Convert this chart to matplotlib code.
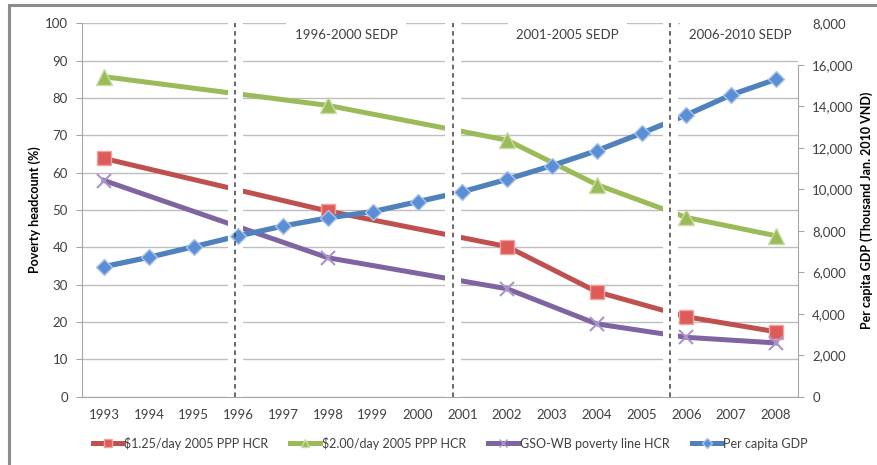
import matplotlib
matplotlib.use("Agg")
import matplotlib.pyplot as plt
from matplotlib.lines import Line2D
from matplotlib.patches import Rectangle

plt.rcParams['font.family'] = ['Lato', 'DejaVu Sans']

# Datos
years = list(range(1993, 2009))
survey_years = [1993, 1998, 2002, 2004, 2006, 2008]
hcr_125 = [63.8, 49.7, 40.2, 28.1, 21.4, 17.4]
hcr_200 = [85.7, 78.0, 68.7, 56.8, 48.0, 43.1]
hcr_gso = [57.9, 37.2, 28.9, 19.5, 15.9, 14.4]
gdp = [6270, 6720, 7230, 7750, 8230, 8620, 8920, 9400,
       9880, 10480, 11140, 11860, 12700, 13580, 14550, 15300]

plan_breaks = [1995.93, 2000.79, 2005.64]
plan_labels = ['1996-2000 SEDP', '2001-2005 SEDP', '2006-2010 SEDP']
plan_label_x = [1998.4, 2003.35, 2007.2]

left_ticks = list(range(0, 101, 10))
right_ticks = list(range(0, 18001, 2000))
right_labels = ['0', '2,000', '4,000', '6,000', '8,000', '10,000',
                '12,000', '14,000', '16,000', '8,000']

legend_labels = ['$1.25/day 2005 PPP HCR', '$2.00/day 2005 PPP HCR',
                 'GSO-WB poverty line HCR', 'Per capita GDP']

# Estilos
red, green, purple, blue = '#C0504D', '#9BBB59', '#8064A2', '#4F81BD'
grid_c = '#BFBFBF'
txt_c = '#404040'

fig = plt.figure(figsize=(8.77, 4.65), dpi=100)
ax = fig.add_axes([81.7 / 877, 1 - 396.7 / 465, (798.3 - 81.7) / 877, (396.7 - 23.3) / 465])
ax2 = ax.twinx()

# Ejes
ax.set_xlim(1992.5, 2008.5)
ax.set_ylim(0, 100)
ax2.set_ylim(0, 18000)
ax.set_xticks(years)
ax.set_xticklabels([str(y) for y in years])
ax.set_yticks(left_ticks)
ax2.set_yticks(right_ticks)
ax2.set_yticklabels(right_labels)
ax.yaxis.grid(True, color=grid_c, lw=1.0)
ax.set_axisbelow(True)

for a in (ax, ax2):
    for s in a.spines.values():
        s.set_visible(False)
ax.spines['left'].set_visible(True)
ax.spines['bottom'].set_visible(True)
ax.spines['left'].set_color('#A6A6A6')
ax.spines['bottom'].set_color('#A6A6A6')
ax2.spines['right'].set_visible(True)
ax2.spines['right'].set_color('#A6A6A6')
ax2.spines['right'].set_bounds(0, 16000)

ax.tick_params(axis='x', length=0, pad=9, labelsize=9.5, labelcolor=txt_c)
ax.tick_params(axis='y', length=4, color='#A6A6A6', pad=6, labelsize=9.5, labelcolor=txt_c)
ax2.tick_params(axis='y', length=4, color='#A6A6A6', pad=6, labelsize=9.5, labelcolor=txt_c)
ax2.yaxis.get_major_ticks()[-1].tick2line.set_visible(False)

ax.set_ylabel('Poverty headcount (%)', fontsize=9, fontweight='bold', labelpad=3)
ax2.set_ylabel('Per capita GDP (Thousand Jan. 2010 VND)', fontsize=9,
               fontweight='bold', labelpad=5)

# Series de pobreza
ax.plot(survey_years, hcr_125, color=red, lw=3.6, zorder=2,
        marker='s', ms=10.5, mfc='#DE5B57', mec='#EFA3A1', mew=1)
ax.plot(survey_years, hcr_200, color=green, lw=3.6, zorder=2,
        marker='^', ms=11, mfc='#9BBB59', mec='#C9DCA3', mew=1)
ax.plot(survey_years, hcr_gso, color=purple, lw=3.6, zorder=2,
        marker='x', ms=10, mec='#A895CC', mew=1.5)

# PIB per capita
ax2.plot(years, gdp, color=blue, lw=3.8, zorder=2)
for b in plan_breaks:
    ax2.axvspan(b - 0.17, b + 0.17, color='white', lw=0, zorder=3)
ax2.plot(years, gdp, ls='none', zorder=4,
         marker='D', ms=8, mfc='#5B8FD5', mec='#A9C4EA', mew=1)

for b in plan_breaks:
    ax2.axvline(b, color='#404040', lw=1.1, ls=(0, (3, 2.5)), zorder=5)

for x, t in zip(plan_label_x, plan_labels):
    ax2.text(x, 96.9 * 180, t, ha='center', va='center', fontsize=9.5, color=txt_c, zorder=6,
             bbox=dict(facecolor='white', edgecolor='none', pad=6))

# Leyenda
handles = [
    Line2D([], [], color=red, lw=3.6, marker='s', ms=6, mfc='#DE5B57', mec='#EFA3A1'),
    Line2D([], [], color=green, lw=3.6, marker='^', ms=6, mfc='#9BBB59', mec='#C9DCA3'),
    Line2D([], [], color=purple, lw=3.6, marker='x', ms=6, mec='#A895CC'),
    Line2D([], [], color=blue, lw=3.6, marker='D', ms=5, mfc='#5B8FD5', mec='#A9C4EA'),
]
fig.legend(handles, legend_labels, loc='center', bbox_to_anchor=(450 / 877, 1 - 443 / 465),
           ncol=4, frameon=False, fontsize=9, handlelength=2.4, handletextpad=0.1,
           columnspacing=1.8, labelcolor=txt_c)

# Marco de la figura
fig.patches.append(Rectangle((8.5 / 877, -0.1), 2, 1.1 - 5.5 / 465, transform=fig.transFigure,
                             fill=False, edgecolor='#8C8C8C', lw=2.2))

fig.savefig('out.png', dpi=100)
